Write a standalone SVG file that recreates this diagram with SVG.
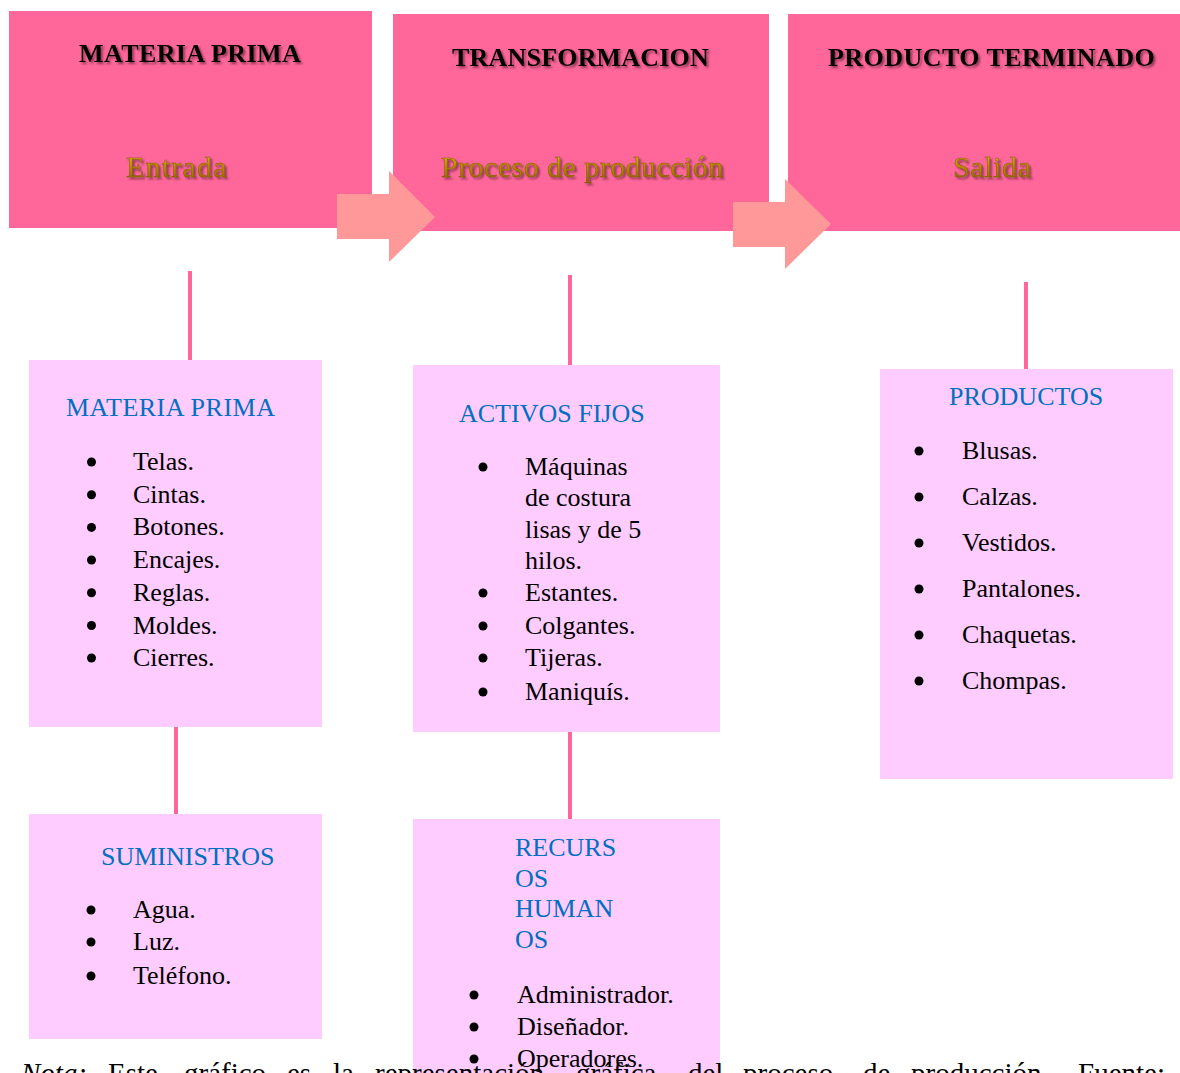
<svg xmlns="http://www.w3.org/2000/svg" width="1180" height="1073" viewBox="0 0 1180 1073">
  <defs>
    <filter id="shadow" x="-10%" y="-30%" width="120%" height="160%">
      <feDropShadow dx="2" dy="2" stdDeviation="1.2" flood-color="#000" flood-opacity="0.45"/>
    </filter>
    <linearGradient id="gold" x1="0" y1="0" x2="0" y2="1">
      <stop offset="0" stop-color="#F0C020"/>
      <stop offset="0.5" stop-color="#B88A00"/>
      <stop offset="1" stop-color="#8A6400"/>
    </linearGradient>
    <style>
      .hdr { fill: #FF6699; }
      .box { fill: #FFCCFF; }
      .arrow { fill: #FF9999; }
      .conn { stroke: #FF6699; stroke-width: 4; fill: none; }
      .title { font-family: "Liberation Serif", "Times New Roman", serif; font-weight: bold; font-size: 26px; fill: #000; filter: url(#shadow); }
      .sub { font-family: "Liberation Serif", "Times New Roman", serif; font-size: 30px; fill: url(#gold); stroke: #7A5500; stroke-width: 0.4; filter: url(#shadow); }
      .head { font-family: "Liberation Serif", "Times New Roman", serif; font-size: 26px; fill: #0070C0; }
      .item { font-family: "Liberation Serif", "Times New Roman", serif; font-size: 26px; fill: #000; }
      .dot { fill: #000; }
      .note { font-family: "Liberation Serif", "Times New Roman", serif; font-size: 29px; fill: #000; }
    </style>
  </defs>
  <rect width="1180" height="1073" fill="#FFFFFF"/>

  <g id="connectors">
    <line class="conn" x1="190" y1="271" x2="190" y2="360"/>
    <line class="conn" x1="570" y1="275" x2="570" y2="365"/>
    <line class="conn" x1="1026" y1="282" x2="1026" y2="369"/>
    <line class="conn" x1="176" y1="727" x2="176" y2="814"/>
    <line class="conn" x1="570" y1="732" x2="570" y2="819"/>
  </g>

  <g id="materia-prima-header">
    <rect class="hdr" x="9" y="11" width="363" height="217"/>
    <text class="title" x="79" y="62" letter-spacing="0.4">MATERIA PRIMA</text>
    <text class="sub" x="126" y="177" style="letter-spacing:1.2px">Entrada</text>
  </g>
  <g id="transformacion-header">
    <rect class="hdr" x="393" y="14" width="376" height="217"/>
    <text class="title" x="452" y="66" letter-spacing="0.2">TRANSFORMACION</text>
    <text class="sub" x="441" y="177" style="letter-spacing:0.45px">Proceso de producción</text>
  </g>
  <g id="producto-terminado-header">
    <rect class="hdr" x="788" y="14" width="392" height="217"/>
    <text class="title" x="828" y="66" letter-spacing="0.45">PRODUCTO TERMINADO</text>
    <text class="sub" x="953" y="177" style="letter-spacing:0.6px">Salida</text>
  </g>

  <g id="arrow-1">
    <polygon class="arrow" points="337,194 389,194 389,171 435,217 389,262 389,239 337,239"/>
  </g>
  <g id="arrow-2">
    <polygon class="arrow" points="733,202 785,202 785,179 831,224 785,269 785,247 733,247"/>
  </g>

  <g id="materia-prima-box">
    <rect class="box" x="29" y="360" width="293" height="367"/>
    <text class="head" x="66" y="416" letter-spacing="0.5">MATERIA PRIMA</text>
    <circle class="dot" cx="91.5" cy="462" r="4.5"/>
    <text class="item" x="133" y="470">Telas.</text>
    <circle class="dot" cx="91.5" cy="494.7" r="4.5"/>
    <text class="item" x="133" y="502.7">Cintas.</text>
    <circle class="dot" cx="91.5" cy="527.4" r="4.5"/>
    <text class="item" x="133" y="535.4">Botones.</text>
    <circle class="dot" cx="91.5" cy="560" r="4.5"/>
    <text class="item" x="133" y="568">Encajes.</text>
    <circle class="dot" cx="91.5" cy="592.8" r="4.5"/>
    <text class="item" x="133" y="600.8">Reglas.</text>
    <circle class="dot" cx="91.5" cy="625.5" r="4.5"/>
    <text class="item" x="133" y="633.5">Moldes.</text>
    <circle class="dot" cx="91.5" cy="658" r="4.5"/>
    <text class="item" x="133" y="666">Cierres.</text>
  </g>

  <g id="activos-fijos-box">
    <rect class="box" x="413" y="365" width="307" height="367"/>
    <text class="head" x="459" y="422">ACTIVOS FIJOS</text>
    <circle class="dot" cx="483" cy="467" r="4.5"/>
    <text class="item" x="525" y="475">Máquinas</text>
    <text class="item" x="525" y="506">de costura</text>
    <text class="item" x="525" y="537.5">lisas y de 5</text>
    <text class="item" x="525" y="568.5">hilos.</text>
    <circle class="dot" cx="483" cy="593" r="4.5"/>
    <text class="item" x="525" y="601">Estantes.</text>
    <circle class="dot" cx="483" cy="626" r="4.5"/>
    <text class="item" x="525" y="634">Colgantes.</text>
    <circle class="dot" cx="483" cy="658" r="4.5"/>
    <text class="item" x="525" y="666">Tijeras.</text>
    <circle class="dot" cx="483" cy="692" r="4.5"/>
    <text class="item" x="525" y="700">Maniquís.</text>
  </g>

  <g id="productos-box">
    <rect class="box" x="880" y="369" width="293" height="410"/>
    <text class="head" x="949" y="405">PRODUCTOS</text>
    <circle class="dot" cx="919" cy="451" r="4.5"/>
    <text class="item" x="962" y="459">Blusas.</text>
    <circle class="dot" cx="919" cy="497" r="4.5"/>
    <text class="item" x="962" y="505">Calzas.</text>
    <circle class="dot" cx="919" cy="543" r="4.5"/>
    <text class="item" x="962" y="551">Vestidos.</text>
    <circle class="dot" cx="919" cy="589" r="4.5"/>
    <text class="item" x="962" y="597">Pantalones.</text>
    <circle class="dot" cx="919" cy="635" r="4.5"/>
    <text class="item" x="962" y="643">Chaquetas.</text>
    <circle class="dot" cx="919" cy="681" r="4.5"/>
    <text class="item" x="962" y="689">Chompas.</text>
  </g>

  <g id="suministros-box">
    <rect class="box" x="29" y="814" width="293" height="225"/>
    <text class="head" x="101" y="865">SUMINISTROS</text>
    <circle class="dot" cx="91" cy="910" r="4.5"/>
    <text class="item" x="133" y="918">Agua.</text>
    <circle class="dot" cx="91" cy="942" r="4.5"/>
    <text class="item" x="133" y="950">Luz.</text>
    <circle class="dot" cx="91" cy="976" r="4.5"/>
    <text class="item" x="133" y="984">Teléfono.</text>
  </g>

  <g id="recursos-humanos-box">
    <rect class="box" x="413" y="819" width="307" height="254"/>
    <text class="head" x="515" y="856">RECURS</text>
    <text class="head" x="515" y="887">OS</text>
    <text class="head" x="515" y="917">HUMAN</text>
    <text class="head" x="515" y="948">OS</text>
    <circle class="dot" cx="474" cy="995" r="4.5"/>
    <text class="item" x="517" y="1003">Administrador.</text>
    <circle class="dot" cx="474" cy="1027" r="4.5"/>
    <text class="item" x="517" y="1035">Diseñador.</text>
    <circle class="dot" cx="474" cy="1059" r="4.5"/>
    <text class="item" x="517" y="1067">Operadores.</text>
  </g>

  <g id="nota">
    <text class="note" y="1083"><tspan x="21" font-style="italic">Nota:</tspan><tspan x="108">Este</tspan><tspan x="184">gráfico</tspan><tspan x="287">es</tspan><tspan x="333">la</tspan><tspan x="375">representación</tspan><tspan x="576">gráfica</tspan><tspan x="688">del</tspan><tspan x="743">proceso</tspan><tspan x="863">de</tspan><tspan x="911">producción.</tspan><tspan x="1078">Fuente:</tspan></text>
  </g>
</svg>
